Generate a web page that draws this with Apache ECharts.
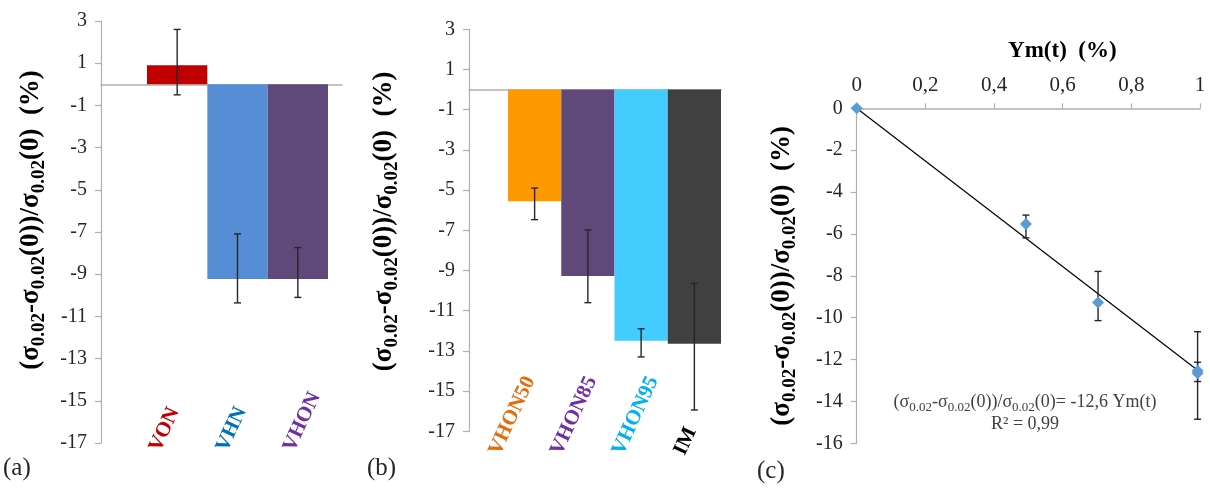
<!DOCTYPE html>
<html><head><meta charset="utf-8">
<script src="https://cdn.jsdelivr.net/npm/echarts@6/dist/echarts.min.js"></script>
<style>html,body{margin:0;padding:0;background:#fff}#c{width:1210px;height:488px}</style>
</head><body><div id="c"></div>
<script>
// ---------- Panel (a) ----------
const catsA = ['VON', 'VHN', 'VHON'];
const valsA = [0.9, -9.23, -9.23];
const errLowA = [-0.5, -10.36, -10.1];
const errHighA = [2.6, -7.09, -7.74];
// ---------- Panel (b) ----------
const catsB = ['VHON50', 'VHON85', 'VHON95', 'IM'];
const valsB = [-5.55, -9.27, -12.49, -12.64];
const errLowB = [-6.47, -10.6, -13.3, -15.94];
const errHighB = [-4.9, -6.98, -11.9, -9.64];
// ---------- Panel (c) ----------
const ymC = [0, 0.493, 0.703, 0.993, 0.993];
const valsC = [0, -5.52, -9.28, -12.53, -12.66];
const errLowC = [null, -6.19, -10.14, -13.05, -14.85];
const errHighC = [null, -5.1, -7.79, -12.13, -10.67];
const trendSlope = -12.6;
const trendX = [0, 0.993];
const r2 = 0.99;
// ---------- Axis ticks ----------
const yMinAB = -17, yMaxAB = 3, yStepAB = 2;
const yMinC = -16, yMaxC = 0, yStepC = 2;
const xMinC = 0, xMaxC = 1, xStepC = 0.2;
const panelLetters = ['(a)', '(b)', '(c)'];

// ---------- Styles ----------
const barColorsA = ['#C00000', '#558ED5', '#5F497A'];
const labelColorsA = ['#C00000', '#0070C0', '#7030A0'];
const barColorsB = ['#FF9900', '#5F497A', '#43CDFF', '#404040'];
const labelColorsB = ['#E46C0A', '#7030A0', '#00B0F0', '#000000'];
const FONT = 'Liberation Serif';
const AXIS_GREY = '#B0B0B0';
const TEXT_GREY = '#262626';
const comma = v => String(v).replace('.', ',');

const yTitle = '{m|(σ}{s|0.02}{m|-σ}{s|0.02}{m|(0))/σ}{s|0.02}{m|(0)  (%)}';
const yTitleRich = {
  m: {fontSize: 27, fontWeight: 'bold', fontFamily: FONT, color: '#000'},
  s: {fontSize: 19, fontWeight: 'bold', fontFamily: FONT, color: '#000', verticalAlign: 'bottom', lineHeight: 35}
};

function errRender(params, api) {
  const x = api.value(0), lo = api.value(1), hi = api.value(2);
  const p1 = api.coord([x, lo]), p2 = api.coord([x, hi]);
  const w = 3.5;
  const style = {stroke: '#262626', lineWidth: 1.4};
  return {type: 'group', children: [
    {type: 'line', shape: {x1: p1[0], y1: p1[1], x2: p2[0], y2: p2[1]}, style},
    {type: 'line', shape: {x1: p1[0] - w, y1: p1[1], x2: p1[0] + w, y2: p1[1]}, style},
    {type: 'line', shape: {x1: p2[0] - w, y1: p2[1], x2: p2[0] + w, y2: p2[1]}, style}
  ]};
}

function visibleY(gridIndex, min, max, step, padLeft, gap) {
  return {
    type: 'value', gridIndex, min, max, interval: step,
    axisLine: {show: true, lineStyle: {color: AXIS_GREY, width: 1.2}},
    axisTick: {show: true, length: 6, lineStyle: {color: AXIS_GREY, width: 1.2}},
    axisLabel: {color: TEXT_GREY, fontSize: 20, fontFamily: FONT, margin: 14},
    splitLine: {show: false},
    name: yTitle, nameLocation: 'middle', nameRotate: 90, nameGap: gap,
    nameTextStyle: {rich: yTitleRich, fontFamily: FONT, padding: [0, 0, 0, padLeft]}
  };
}
function hiddenY(gridIndex, min, max) {
  return {type: 'value', gridIndex, min, max, show: false, splitLine: {show: false}};
}
function zeroX(gridIndex) {
  return {type: 'value', gridIndex, min: 0, max: 1,
    axisLine: {show: true, onZero: true, lineStyle: {color: AXIS_GREY, width: 1.5}},
    axisTick: {show: false}, axisLabel: {show: false}, splitLine: {show: false}};
}
function barX(gridIndex, cats) {
  return {type: 'category', gridIndex, data: cats, boundaryGap: true,
    axisLine: {show: false}, axisTick: {show: false}, axisLabel: {show: false}};
}
function labelX(gridIndex, cats, colors, margin) {
  return {type: 'category', gridIndex, data: cats, boundaryGap: true, position: 'bottom',
    axisLine: {show: false, onZero: false}, axisTick: {show: false},
    axisLabel: {show: true, interval: 0, rotate: 65, align: 'left', verticalAlign: 'bottom',
      margin, fontSize: 21, fontWeight: 'bold', fontFamily: FONT,
      color: (v, i) => colors[i]}};
}

const G = (left, top, width, height) => ({left, top, width, height, containLabel: false, outerBoundsMode: 'none'});

const option = {
  animation: false,
  backgroundColor: '#fff',
  textStyle: {fontFamily: FONT},
  grid: [
    G(101, 21, 241, 422),     // 0 a axis
    G(147, 21, 181, 422),     // 1 a bars
    G(130.8, 21, 201, 422),   // 2 a labels
    G(469, 29.3, 252, 402),   // 3 b axis
    G(508, 29.3, 213, 402),   // 4 b bars
    G(473.2, 29.3, 246.7, 402), // 5 b labels
    G(856.7, 108.3, 343.3, 335) // 6 c
  ],
  xAxis: [
    zeroX(0), barX(1, catsA), labelX(2, catsA, labelColorsA, 12),
    zeroX(3), barX(4, catsB), labelX(5, catsB, labelColorsB, 27),
    {type: 'value', gridIndex: 6, min: xMinC, max: xMaxC, interval: xStepC, position: 'top',
      axisLine: {show: true, onZero: false, lineStyle: {color: AXIS_GREY, width: 1.5}},
      axisTick: {show: true, length: 5, lineStyle: {color: AXIS_GREY, width: 1.2}},
      axisLabel: {color: TEXT_GREY, fontSize: 21, fontFamily: FONT, margin: 12, formatter: comma},
      splitLine: {show: false},
      name: 'Ym(t)  (%)', nameLocation: 'middle', nameGap: 46,
      nameTextStyle: {fontSize: 23, fontWeight: 'bold', fontFamily: FONT, color: '#000', padding: [0, 0, 0, 68]}}
  ],
  yAxis: [
    visibleY(0, yMinAB, yMaxAB, yStepAB, 24, 52), hiddenY(1, yMinAB, yMaxAB), hiddenY(2, yMinAB, yMaxAB),
    visibleY(3, yMinAB, yMaxAB, yStepAB, 18, 67), hiddenY(4, yMinAB, yMaxAB), hiddenY(5, yMinAB, yMaxAB),
    visibleY(6, yMinC, yMaxC, yStepC, 0, 57)
  ],
  series: [
    {type: 'bar', xAxisIndex: 1, yAxisIndex: 1, barWidth: '100%', z: 2,
      data: valsA.map((v, i) => ({value: v, itemStyle: {color: barColorsA[i]}}))},
    {type: 'custom', xAxisIndex: 1, yAxisIndex: 1, z: 5, renderItem: errRender,
      data: catsA.map((c, i) => [i, errLowA[i], errHighA[i]])},
    {type: 'bar', xAxisIndex: 4, yAxisIndex: 4, barWidth: '100%', z: 2,
      data: valsB.map((v, i) => ({value: v, itemStyle: {color: barColorsB[i]}}))},
    {type: 'custom', xAxisIndex: 4, yAxisIndex: 4, z: 5, renderItem: errRender,
      data: catsB.map((c, i) => [i, errLowB[i], errHighB[i]])},
    {type: 'line', xAxisIndex: 6, yAxisIndex: 6, symbol: 'none', z: 3,
      lineStyle: {color: '#000', width: 1.2},
      data: trendX.map(x => [x, trendSlope * x])},
    {type: 'custom', xAxisIndex: 6, yAxisIndex: 6, z: 4, renderItem: errRender,
      data: ymC.map((x, i) => [x, errLowC[i], errHighC[i]]).filter(d => d[1] !== null)},
    {type: 'scatter', xAxisIndex: 6, yAxisIndex: 6, symbol: 'diamond', symbolSize: 12, z: 5,
      itemStyle: {color: '#5B9BD5', opacity: 1},
      data: ymC.map((x, i) => [x, valsC[i]])}
  ],
  graphic: [
    {type: 'text', x: 1025, y: 413, style: {
      text: '{m|(σ}{s|0.02}{m|-σ}{s|0.02}{m|(0))/σ}{s|0.02}{m|(0)= ' + comma(trendSlope) + ' Ym(t)}\n{m|R² = ' + comma(r2) + '}',
      align: 'center', verticalAlign: 'middle', fill: '#404040', fontFamily: FONT,
      rich: {
        m: {fontSize: 18, fontFamily: FONT, fill: '#404040', lineHeight: 21},
        s: {fontSize: 13, fontFamily: FONT, fill: '#404040', verticalAlign: 'bottom', lineHeight: 23}
      }}},
    {type: 'text', x: 3, y: 456, style: {text: panelLetters[0], fontSize: 25, fontFamily: FONT, fill: '#262626'}},
    {type: 'text', x: 367, y: 456, style: {text: panelLetters[1], fontSize: 25, fontFamily: FONT, fill: '#262626'}},
    {type: 'text', x: 757, y: 459, style: {text: panelLetters[2], fontSize: 25, fontFamily: FONT, fill: '#262626'}}
  ]
};
const chart = echarts.init(document.getElementById('c'), null, {renderer: 'canvas'});
chart.setOption(option);
</script>
</body></html>
